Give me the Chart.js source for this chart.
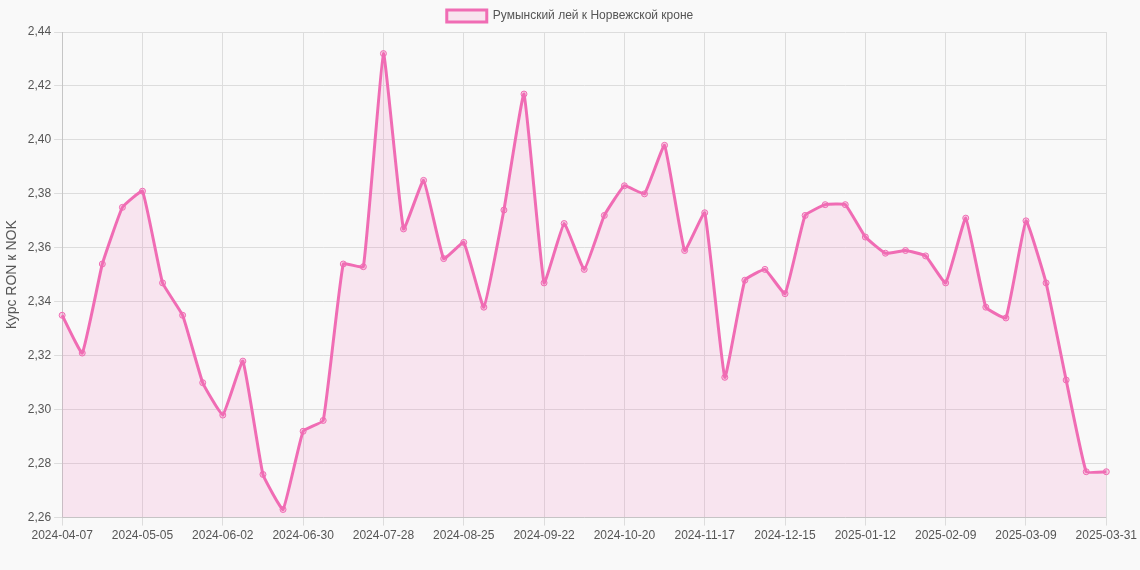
<!DOCTYPE html>
<html><head><meta charset="utf-8">
<script src="https://cdn.jsdelivr.net/npm/chart.js@4"></script>
<style>html,body{margin:0;background:#f9f9f9}#w{width:1140px;height:570px}</style>
</head><body><div id="w"><canvas id="c"></canvas></div>
<script>
const startDate = "2024-04-07";
const values = [2.335,2.321,2.354,2.375,2.381,2.347,2.335,2.310,2.298,2.318,2.276,2.263,2.292,2.296,2.354,2.353,2.432,2.367,2.385,2.356,2.362,2.338,2.374,2.417,2.347,2.369,2.352,2.372,2.383,2.380,2.398,2.359,2.373,2.312,2.348,2.352,2.343,2.372,2.376,2.376,2.364,2.358,2.359,2.357,2.347,2.371,2.338,2.334,2.370,2.347,2.311,2.277,2.277];
const labels = [];
{let d=new Date(startDate+"T00:00:00Z");
 for(let i=0;i<values.length-1;i++){labels.push(d.toISOString().slice(0,10));d=new Date(d.getTime()+7*864e5);}
 labels.push("2025-03-31");}
new Chart(document.getElementById('c'),{type:'line',
data:{labels,datasets:[{label:'Румынский лей к Норвежской кроне',data:values,borderColor:'#f06cb4',backgroundColor:'rgba(240,108,180,0.15)',fill:true,tension:0.1,borderWidth:3,pointRadius:3,pointBackgroundColor:'rgba(240,108,180,0.3)',pointBorderColor:'#f06cb4',pointBorderWidth:1}]},
options:{responsive:true,maintainAspectRatio:false,animation:false,layout:{padding:{bottom:24}},
plugins:{legend:{labels:{color:'#555',font:{family:'Arial',size:12}}}},
scales:{x:{ticks:{autoSkip:false,maxRotation:0,color:'#555',font:{size:12},callback:function(v,i){return (i%4===0||i===labels.length-1)?labels[i]:null;}},grid:{color:'#ddd'}},
y:{min:2.26,max:2.44,ticks:{stepSize:0.02,color:'#555',callback:v=>v.toFixed(2).replace('.',',')},title:{display:true,text:'Курс RON к NOK',color:'#555',font:{size:14}},grid:{color:'#ddd'}}}}});
</script></body></html>
